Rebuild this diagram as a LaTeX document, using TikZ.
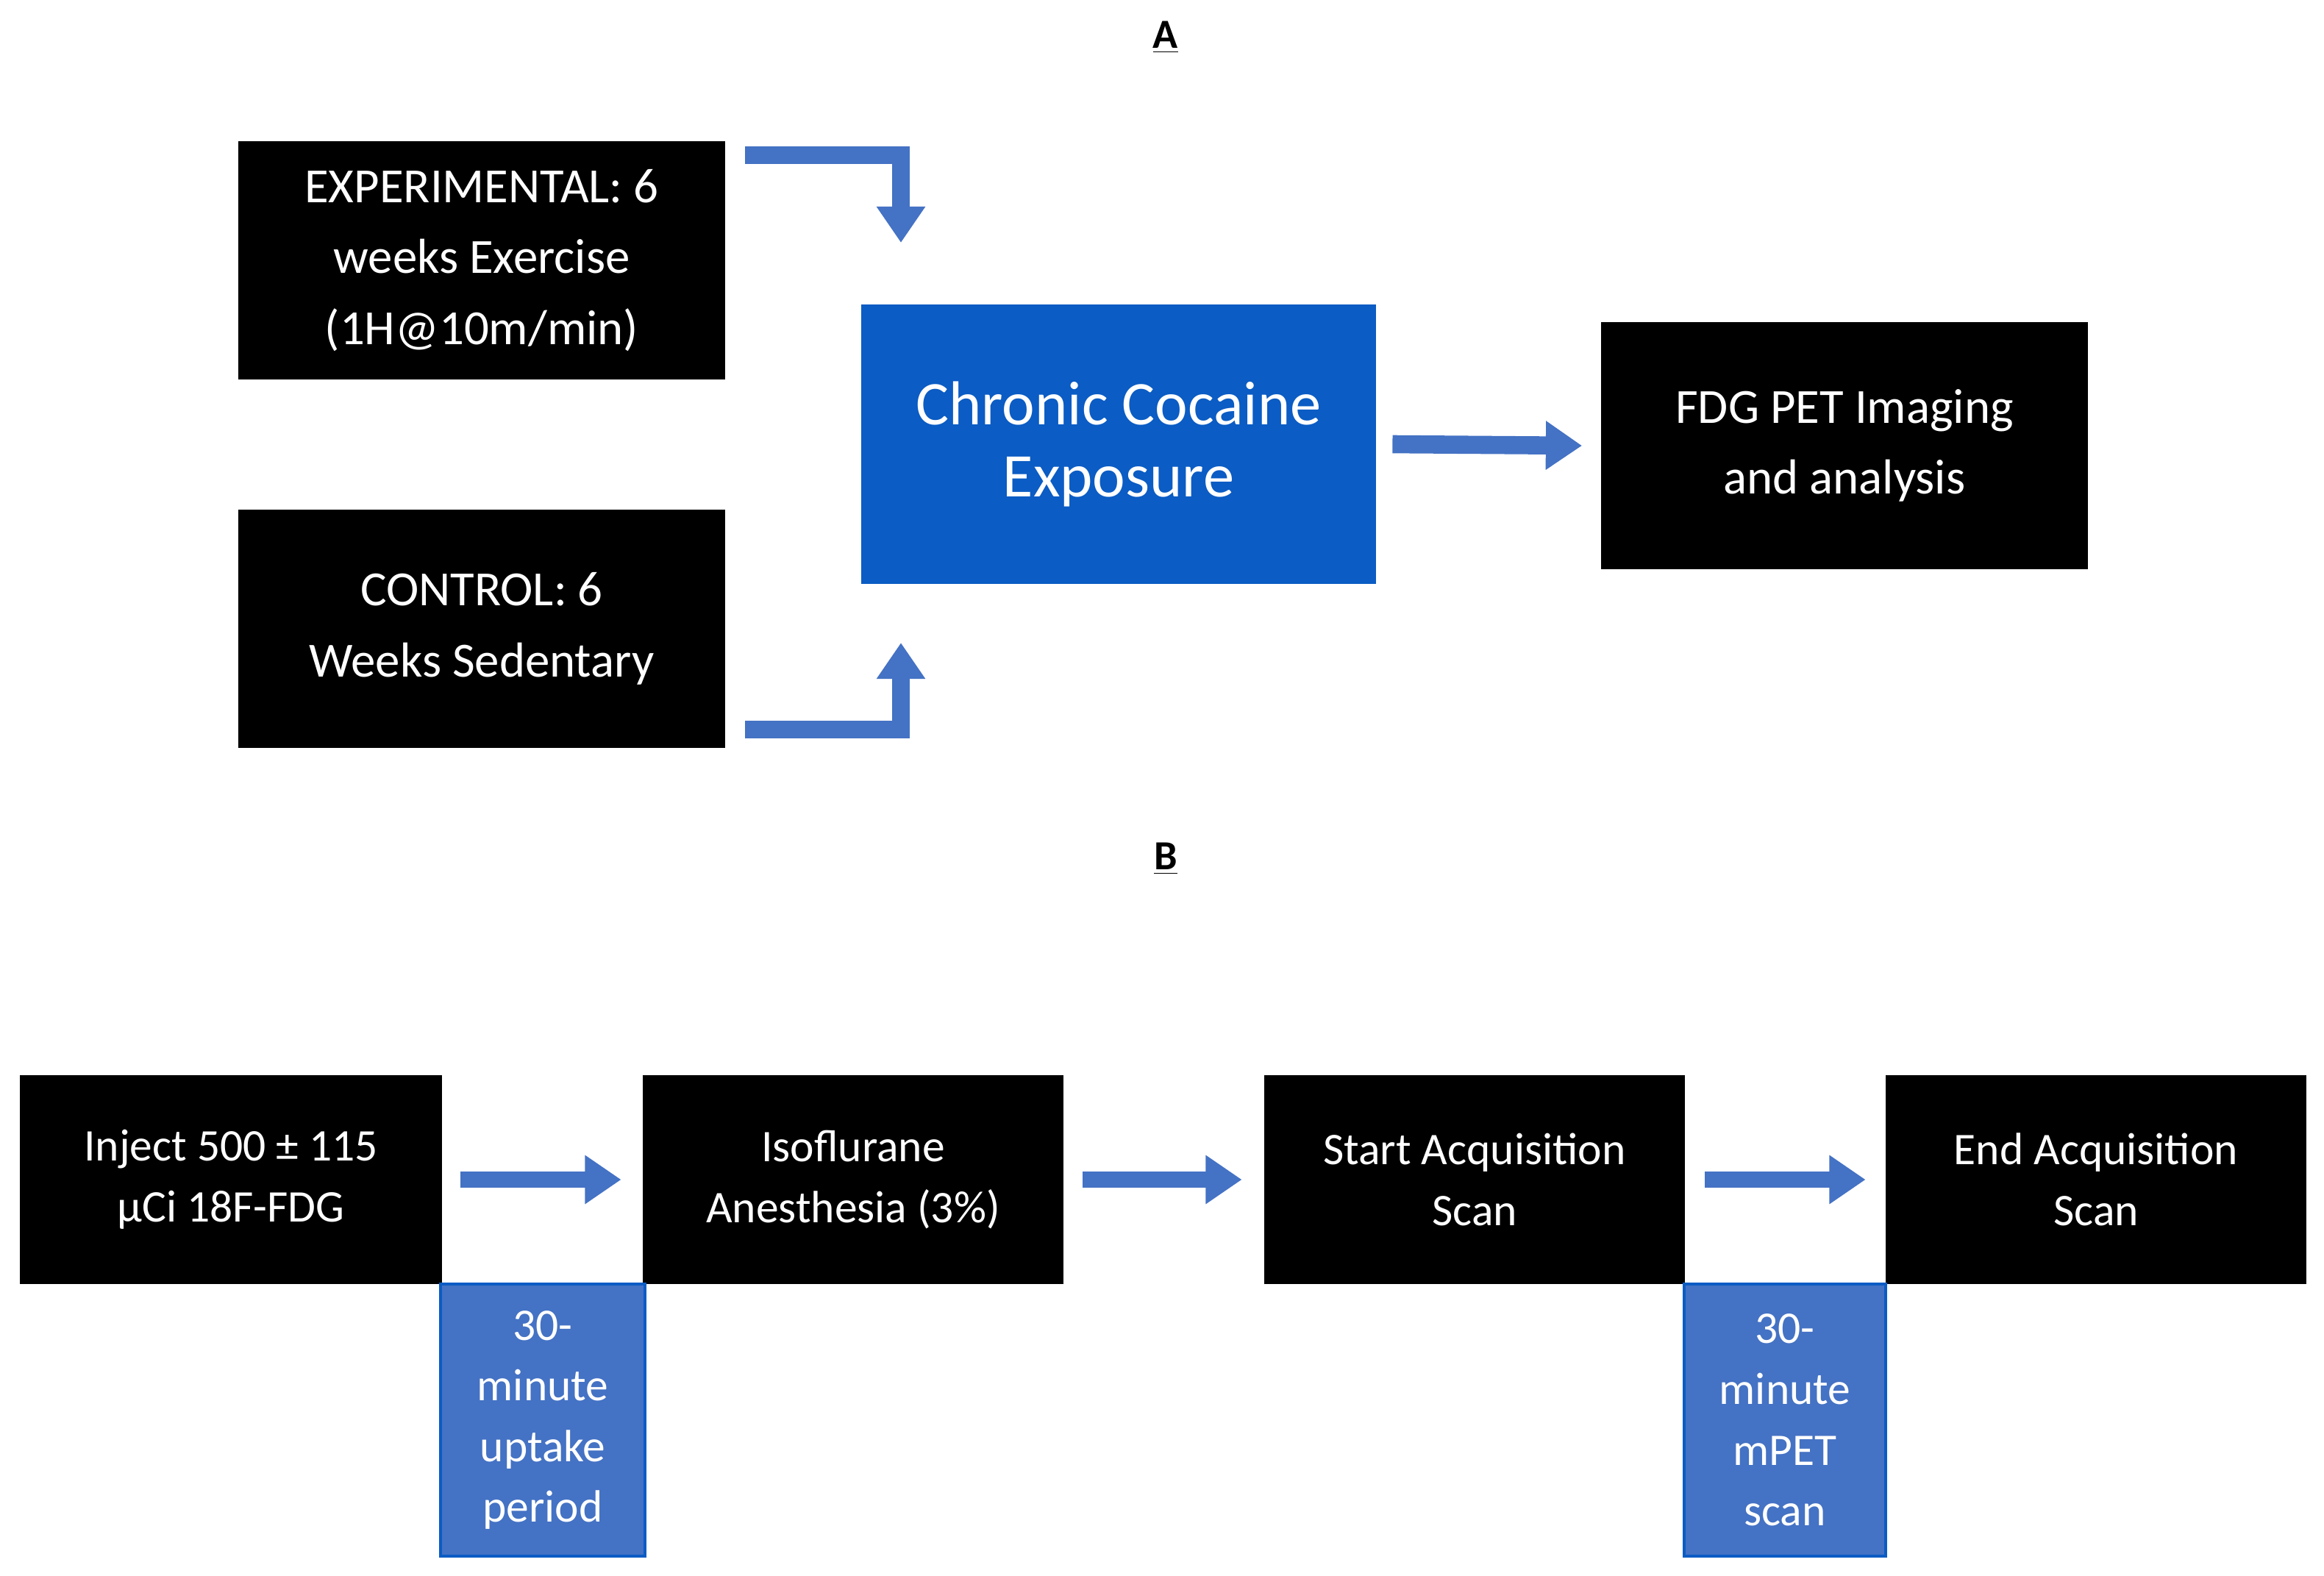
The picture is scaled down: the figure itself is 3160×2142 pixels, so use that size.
\documentclass[tikz,border=0pt]{standalone}
\usepackage{fontspec}
\setmainfont{Carlito}
\usetikzlibrary{arrows.meta}
\definecolor{dblue}{HTML}{0B5CC4}
\definecolor{lblue}{HTML}{4472C4}
\begin{document}
\begin{tikzpicture}[x=0.01cm,y=-0.01cm,
 bbox/.style={fill=black,text=white,inner sep=0pt,align=center},
 sbox/.style={fill=lblue,draw=dblue,line width=1pt,text=white,inner sep=0pt,align=center,font=\fontsize{17.5}{23.5}\selectfont},
 arr/.style={draw=lblue,line width=7pt,-{Triangle[width=18pt,length=14pt]}},
 big/.style={font=\fontsize{19}{27.5}\selectfont},
 small/.style={font=\fontsize{17.5}{23.5}\selectfont}]
\useasboundingbox (0,0) rectangle (3160,2142);
\node[font=\bfseries\fontsize{16}{18}\selectfont] (tA) at (1585,51) {\underline{A}};
\node[font=\bfseries\fontsize{16}{18}\selectfont] (tB) at (1585,1168) {\underline{B}};
\node[bbox,big,minimum width=66.2mm,minimum height=32.4mm] (exp) at (655,354) {EXPERIMENTAL: 6\\weeks Exercise\\(1H@10m/min)};
\node[bbox,big,minimum width=66.2mm,minimum height=32.4mm] (ctl) at (655,855) {CONTROL: 6\\Weeks Sedentary};
\node[fill=dblue,text=white,inner sep=0pt,align=center,font=\fontsize{24}{28}\selectfont,minimum width=69.9mm,minimum height=37.9mm] (coc) at (1521,604) {Chronic Cocaine\\Exposure};
\node[bbox,big,minimum width=66.2mm,minimum height=33.5mm] (fdg) at (2508,606) {FDG PET Imaging\\and analysis};
\coordinate (e1) at (1013,211);
\coordinate (e2) at (1225,211);
\coordinate (e3) at (1225,330);
\coordinate (c1) at (1013,992);
\coordinate (c2) at (1225,992);
\coordinate (c3) at (1225,874);
\draw[arr] (e1) -- (e2) -- (e3);
\draw[arr] (c1) -- (c2) -- (c3);
\draw[arr] ([xshift=2.2mm]coc.east) -- ([xshift=-2.5mm]fdg.west);
\node[bbox,small,minimum width=57.3mm,minimum height=28.4mm] (b1) at (314,1604) {Inject 500 ± 115\\µCi 18F-FDG};
\node[bbox,small,minimum width=57.1mm,minimum height=28.4mm] (b2) at (1160,1604) {Isoflurane\\Anesthesia (3\%)};
\node[bbox,small,minimum width=57.1mm,minimum height=28.4mm] (b3) at (2005,1604) {Start Acquisition\\Scan};
\node[bbox,small,minimum width=57.1mm,minimum height=28.4mm] (b4) at (2850,1604) {End Acquisition\\Scan};
\node[sbox,minimum width=27.8mm,minimum height=37mm] (s1) at (738,1931) {30-\\minute\\uptake\\period};
\node[sbox,minimum width=27.4mm,minimum height=37mm] (s2) at (2427,1931) {30-\\minute\\mPET\\scan};
\draw[arr,line width=6pt] ([xshift=2.5mm]b1.east) -- ([xshift=-2.9mm]b2.west);
\draw[arr,line width=6pt] ([xshift=2.6mm]b2.east) -- ([xshift=-3mm]b3.west);
\draw[arr,line width=6pt] ([xshift=2.7mm]b3.east) -- ([xshift=-2.7mm]b4.west);
\end{tikzpicture}
\end{document}
